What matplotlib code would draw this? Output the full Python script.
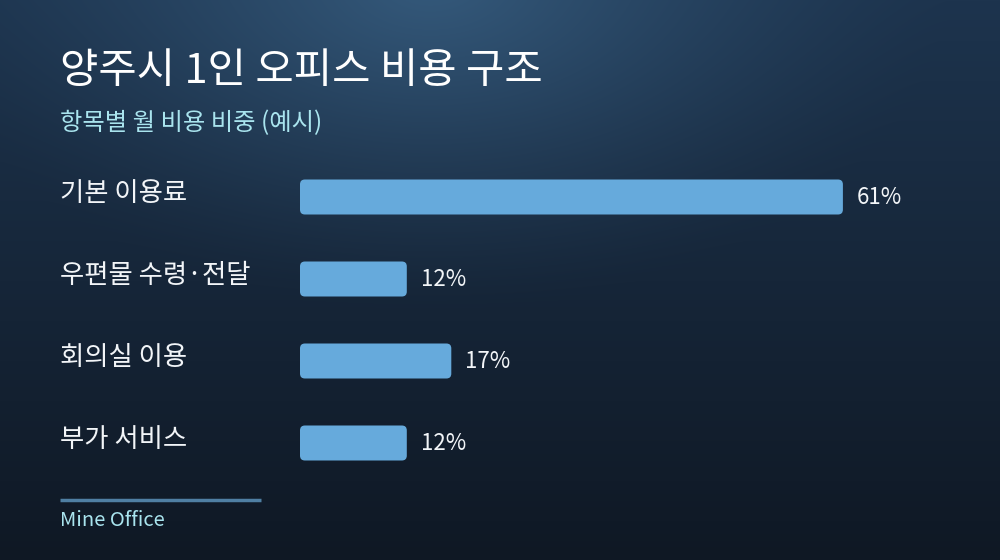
import matplotlib
matplotlib.use("Agg")
import matplotlib.pyplot as plt
import numpy as np
from matplotlib.patches import FancyBboxPatch
from matplotlib.transforms import blended_transform_factory

plt.rcParams['font.family'] = ['Noto Sans CJK KR', 'DejaVu Sans']

# 데이터
categories = ['기본 이용료', '우편물 수령·전달', '회의실 이용', '부가 서비스']
values = [61, 12, 17, 12]
title = '양주시 1인 오피스 비용 구조'
subtitle = '항목별 월 비용 비중 (예시)'
source = 'Mine Office'

W, H = 1000, 560
fig = plt.figure(figsize=(W / 100, H / 100), dpi=100)

# 배경 그라데이션
bg = fig.add_axes([0, 0, 1, 1])
yy, xx = np.mgrid[0:H, 0:W]
top = np.array([0x1d, 0x34, 0x4e]) / 255
bottom = np.array([0x0f, 0x18, 0x24]) / 255
glow = np.array([0x35, 0x5a, 0x7c]) / 255
t = (yy / H)[..., None]
base = top * (1 - t) + bottom * t
d = np.sqrt(((xx - 430) / 520.0) ** 2 + ((yy + 20) / 330.0) ** 2)
g = np.clip(1 - d, 0, 1)[..., None] ** 1.4
img = base * (1 - g) + glow * g
bg.imshow(img, extent=[0, W, H, 0], aspect='auto')
bg.set_xlim(0, W)
bg.set_ylim(H, 0)
bg.axis('off')

# 막대 영역
px_per_unit = 8.9
row_h = 82
xmax = 70
ax = fig.add_axes([300 / W, (H - 484) / H, xmax * px_per_unit / W, 4 * row_h / H])
ax.set_xlim(0, xmax)
ax.set_ylim(len(categories) - 0.5, -0.5)
ax.axis('off')
ax.patch.set_alpha(0)

bar_h = 35 / row_h
aspect = (1 / row_h) / (1 / px_per_unit)
bars = ax.barh(range(len(categories)), values, height=bar_h, alpha=0)
for b in bars:
    x0, y0 = b.get_x(), b.get_y()
    w, h = b.get_width(), b.get_height()
    p = FancyBboxPatch((x0, y0), w, h,
                       boxstyle='round,pad=0,rounding_size=0.55',
                       mutation_aspect=aspect,
                       facecolor='#66aadc', edgecolor='none')
    ax.add_patch(p)

trans = blended_transform_factory(fig.transFigure, ax.transData)
for i, (cat, v) in enumerate(zip(categories, values)):
    ax.text(60 / W, i - 0.04, cat, transform=trans, ha='left', va='center',
            fontsize=19, color='#f2f5f8')
    ax.annotate(f'{v}%', xy=(v, i), xytext=(10, 0), textcoords='offset points',
                ha='left', va='center', fontsize=16, color='#f2f5f8')

fig.text(60 / W, 1 - 72 / H, title, ha='left', va='center',
         fontsize=30, color='white', fontweight='medium')
fig.text(60 / W, 1 - 123 / H, subtitle, ha='left', va='center',
         fontsize=17.5, color='#a9e4ee')

bg.plot([60, 261], [500, 500], color='#4f7fa3', lw=2.5, solid_capstyle='butt')
fig.text(60 / W, 1 - 521 / H, source, ha='left', va='center',
         fontsize=14.5, color='#a9e4ee')

fig.savefig('out.png', dpi=100)
